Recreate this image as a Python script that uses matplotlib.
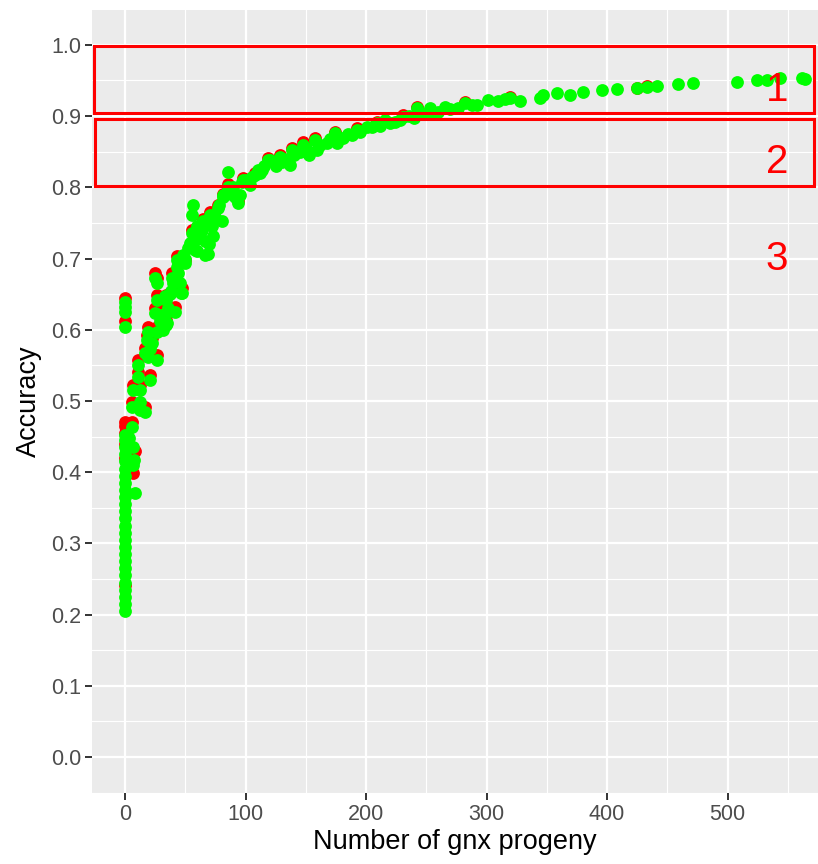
import matplotlib

matplotlib.use("Agg")
import matplotlib.pyplot as plt
from matplotlib.patches import Rectangle
from matplotlib.ticker import MultipleLocator

# green series (drawn on top)
GX = [0] * 30 + [
    5.5, 6.6, 8.3, 7.0, 7.5, 5.5, 6.9, 12.4, 16.6, 12.4, 12.4, 20.7, 11.0, 11.0,
    19.4, 26.3, 16.6, 21.0, 18.0, 22.2, 18.7, 26.3, 31.8, 34.0, 24.9, 34.0, 41.5,
    34.6, 26.3, 34.0, 33.2, 47.0, 46.5, 26.3, 40.0, 45.6, 24.9, 38.7, 42.9, 49.8,
    55.3, 58.0, 63.6, 69.1, 73.3, 64.9, 70.5, 55.3, 56.7, 80.2, 77.4, 81.6, 85.7,
    85.7, 94.0, 91.3, 96.8, 103.7, 107.9, 113.4, 119.0, 81.6, 95.4, 98.2, 110.6,
    120.3, 128.6, 136.9, 138.3, 148.0, 157.7, 159.0, 167.4, 174.3, 181.2, 188.1,
    192.3, 200.6, 208.9, 215.8, 224.0, 231.0, 242.0, 253.0, 265.6, 260.0, 282.0,
    287.7, 301.5, 309.8, 319.5, 327.8, 344.4, 347.1, 358.3, 369.3, 380.3, 395.6,
    408.0, 424.6, 432.9, 441.2, 459.2, 471.6, 507.6, 524.2, 532.5, 543.6, 561.6,
    564.0,
    30, 36, 38, 44, 48, 52, 60, 62, 66, 68, 72, 75, 60, 66, 70, 78, 88, 90, 100,
    105, 112, 115, 125, 130, 132, 140, 145, 150, 153, 162, 170, 176, 185, 195,
    205, 212, 220, 228, 236, 240, 248, 256, 270, 276, 292, 315,
    29, 37, 43, 50, 54, 58, 2, 3,
]
GY = [
    0.205, 0.215, 0.225, 0.235, 0.245, 0.255, 0.265, 0.275, 0.285, 0.295, 0.305,
    0.315, 0.325, 0.335, 0.345, 0.355, 0.365, 0.375, 0.385, 0.395, 0.405, 0.415,
    0.425, 0.435, 0.445, 0.452, 0.604, 0.625, 0.632, 0.639,
    0.464, 0.435, 0.371, 0.410, 0.417, 0.492, 0.515, 0.487, 0.485, 0.499, 0.515,
    0.529, 0.534, 0.551, 0.562, 0.558, 0.567, 0.573, 0.586, 0.581, 0.597, 0.597,
    0.600, 0.607, 0.624, 0.624, 0.625, 0.609, 0.642, 0.642, 0.647, 0.651, 0.651,
    0.665, 0.665, 0.665, 0.672, 0.672, 0.698, 0.693, 0.736, 0.726, 0.740, 0.707,
    0.731, 0.752, 0.761, 0.761, 0.775, 0.752, 0.771, 0.787, 0.801, 0.822, 0.778,
    0.787, 0.808, 0.803, 0.817, 0.824, 0.838, 0.789, 0.789, 0.810, 0.824, 0.838,
    0.843, 0.831, 0.852, 0.860, 0.867, 0.852, 0.862, 0.876, 0.869, 0.874, 0.881,
    0.885, 0.890, 0.895, 0.892, 0.899, 0.911, 0.911, 0.913, 0.906, 0.918, 0.916,
    0.922, 0.921, 0.925, 0.921, 0.926, 0.930, 0.932, 0.930, 0.934, 0.937, 0.938,
    0.939, 0.941, 0.942, 0.945, 0.947, 0.948, 0.951, 0.951, 0.953, 0.954, 0.952,
    0.620, 0.630, 0.655, 0.680, 0.705, 0.715, 0.745, 0.730, 0.725, 0.750, 0.745,
    0.758, 0.710, 0.705, 0.720, 0.775, 0.790, 0.800, 0.810, 0.815, 0.820, 0.830,
    0.830, 0.835, 0.840, 0.845, 0.850, 0.855, 0.845, 0.860, 0.868, 0.862, 0.875,
    0.878, 0.884, 0.886, 0.890, 0.895, 0.900, 0.898, 0.903, 0.905, 0.910, 0.912,
    0.915, 0.924,
    0.612, 0.650, 0.688, 0.700, 0.722, 0.712, 0.440, 0.448,
]

# red series (mostly hidden under the green one)
RX = [0, 0, 0, 0, 0, 0, 0, 0, 2, 3, 7, 8, 5.5, 12.4, 16.6, 5.5, 6.9, 12.4, 20.7,
      11.0, 11.0, 19.4, 26.3, 16.6, 21.0, 18.0, 22.2, 18.7, 26.3, 31.8, 34.0,
      24.9, 34.0, 41.5, 26.3, 34.0, 47.0, 26.3, 40.0, 24.9, 38.7, 42.9, 49.8,
      55.3, 58.0, 63.6, 64.9, 70.5, 77.4, 81.6, 85.7, 94.0, 98.2, 107.9, 119.0,
      128.6, 138.3, 148.0, 157.7, 174.3, 192.3, 208.9, 231.0, 242.0, 282.0,
      319.5, 424.6, 432.9]
RY = [0.242, 0.420, 0.440, 0.455, 0.465, 0.470, 0.645, 0.612, 0.468, 0.462,
      0.399, 0.430, 0.471, 0.494, 0.491, 0.499, 0.522, 0.522, 0.536, 0.541,
      0.558, 0.569, 0.565, 0.574, 0.580, 0.593, 0.588, 0.604, 0.604, 0.607,
      0.614, 0.631, 0.631, 0.632, 0.649, 0.649, 0.658, 0.672, 0.672, 0.679,
      0.679, 0.703, 0.698, 0.740, 0.730, 0.744, 0.756, 0.765, 0.775, 0.791,
      0.805, 0.781, 0.813, 0.820, 0.841, 0.846, 0.855, 0.863, 0.869, 0.878,
      0.883, 0.892, 0.901, 0.913, 0.920, 0.927, 0.940, 0.942]

XTICKS = [0, 100, 200, 300, 400, 500]
YTICKS = [0.0, 0.1, 0.2, 0.3, 0.4, 0.5, 0.6, 0.7, 0.8, 0.9, 1.0]

RED = "#ff0000"; GREEN = "#00ff00"; PANEL = "#ebebeb"; TICK = "#4d4d4d"

plt.rcParams["font.family"] = ["Liberation Sans", "DejaVu Sans"]

fig = plt.figure(figsize=(8.18, 8.64), dpi=100)
ax = fig.add_axes([92 / 818, 1 - 793 / 864, 726 / 818, 783 / 864])
ax.set_facecolor(PANEL)
for s in ax.spines.values():
    s.set_visible(False)

ax.set_xlim(-27.4, 575.1)
ax.set_ylim(-0.0506, 1.049)
ax.set_xticks(XTICKS)
ax.set_yticks(YTICKS)
ax.set_yticklabels([f"{v:.1f}" for v in YTICKS])
ax.xaxis.set_minor_locator(MultipleLocator(50))
ax.yaxis.set_minor_locator(MultipleLocator(0.05))
ax.grid(True, which="major", color="white", lw=1.6)
ax.grid(True, which="minor", color="white", lw=0.8)
ax.set_axisbelow(True)
ax.tick_params(which="major", colors="#333333", labelcolor=TICK,
               labelsize=15.5, length=5, width=1.4, pad=3)
ax.tick_params(which="minor", length=0)

ax.scatter(RX, RY, s=85, color=RED, linewidths=0, zorder=3)
ax.scatter(GX, GY, s=85, color=GREEN, linewidths=0, zorder=4)

ax.set_xlabel("Number of gnx progeny", fontsize=19.5, labelpad=3)
ax.set_ylabel("Accuracy", fontsize=19.5, labelpad=6)

# hand-drawn style boxes and region numbers
ax.add_patch(Rectangle((-25.7, 0.905), 597.5, 0.094, fill=False,
                       edgecolor=RED, lw=2.2, zorder=5, clip_on=False))
ax.add_patch(Rectangle((-25.0, 0.802), 596.8, 0.094, fill=False,
                       edgecolor=RED, lw=2.2, zorder=5, clip_on=False))
for lab, yv in [("1", 0.937), ("2", 0.836), ("3", 0.700)]:
    ax.text(541, yv, lab, color=RED, fontsize=29, ha="center", va="center",
            zorder=6)

fig.savefig("out.png", dpi=100)
